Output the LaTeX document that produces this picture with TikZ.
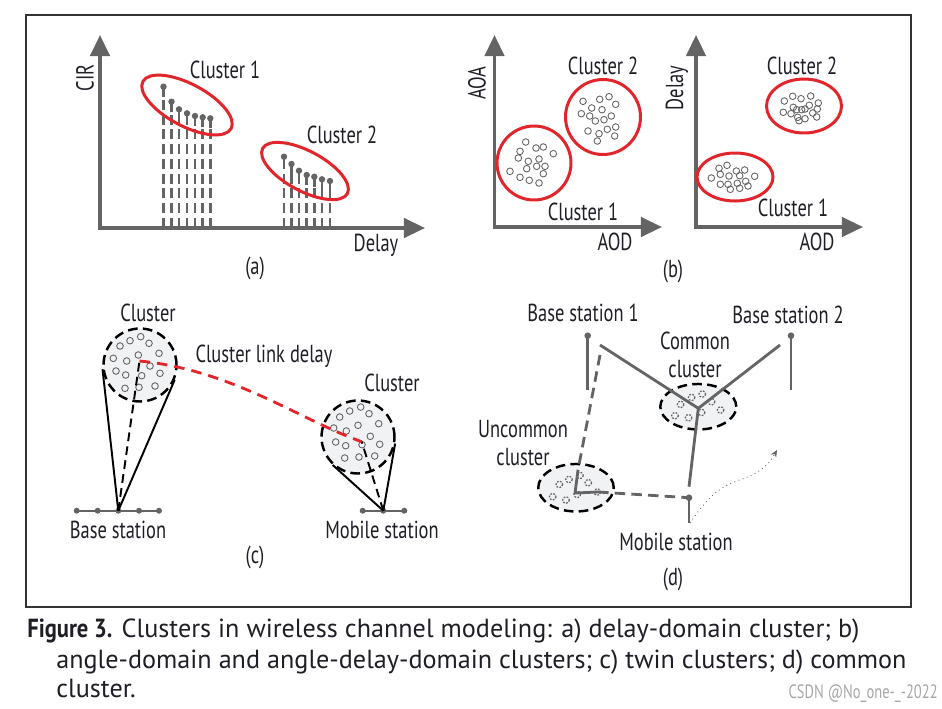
\documentclass[tikz,border=0pt]{standalone}
\usepackage{fontspec}
\setmainfont{PT Sans}[FakeStretch=0.75]
\newfontfamily\capfont{PT Sans}
\newfontfamily\figfont{PT Sans}[FakeStretch=0.86]
\usetikzlibrary{arrows.meta,shapes.geometric,calc}
\definecolor{axisgray}{HTML}{646464}
\definecolor{clred}{HTML}{E2252B}
\definecolor{clfill}{HTML}{F1F2F4}
\definecolor{ink}{HTML}{1E1E26}

\begin{document}
\begin{tikzpicture}[x=0.02cm,y=-0.02cm,
  lbl/.style={font=\fontsize{14}{16}\selectfont,text=ink,inner sep=0pt},
  captext/.style={anchor=base west,inner sep=0pt,text=ink,font=\capfont\fontsize{14.9}{17}\selectfont},
  axis/.style={axisgray,line width=2pt,line join=miter,{Triangle[length=12pt,width=11pt]}-{Triangle[length=12pt,width=11pt]}},
  stem/.style={axisgray,line width=1.5pt,dash pattern=on 5.8pt off 2.6pt},
  stemtop/.style={axisgray,line width=1.5pt},
  ring/.style={clred,line width=1.7pt},
  pt/.style={axisgray,line width=0.5pt},
  dpt/.style={axisgray,line width=0.7pt,dash pattern=on 1pt off 0.8pt},
  clus/.style={circle,draw=black,fill=clfill,line width=1.4pt,dash pattern=on 5.5pt off 3pt,minimum size=1.46cm,inner sep=0pt},
  eclus/.style={ellipse,draw=black,fill=clfill,line width=1.4pt,dash pattern=on 5.5pt off 3pt,inner sep=0pt},
  link/.style={black,line width=1.1pt},
  dlink/.style={black,line width=1.1pt,dash pattern=on 5pt off 3pt},
  delay/.style={clred,line width=1.6pt,dash pattern=on 6pt off 4pt},
  ray/.style={axisgray,line width=1.6pt},
  dray/.style={axisgray,line width=1.6pt,dash pattern=on 6pt off 3.5pt},
  station/.style={axisgray,line width=1.1pt}]
\useasboundingbox (0,0) rectangle (942,708);
\draw[black!80,line width=0.7pt] (26,15) rectangle (911,607);

% (a) delay-domain clusters
\draw[axis] (100,35) -- (100,228) -- (425,228);
\node[lbl,rotate=90] (cir) at (85,78) {CIR};
\node[lbl] (delaya) at (376,245) {Delay};
\node[lbl] (capa) at (255,268) {(a)};
\foreach \x/\y in {163.5/86.7,171.5/101.7,179/109.3,187/113.3,195/116,202.7/117.3,210.3/118.3,
                   284/156.7,291.5/164,299/170.7,306.7/175,314.3/176.7,322/179.3,330/181}{
  \draw[stem] (\x,228) -- (\x,\y+10);
  \draw[stemtop] (\x,\y+10) -- (\x,\y);
  \fill[axisgray] (\x,\y) circle[radius=3.2];
}
\draw[ring,rotate around={-28:(187,105)}] (187,105) ellipse[x radius=50,y radius=21];
\draw[ring,rotate around={-28:(305,171)}] (305,171) ellipse[x radius=48,y radius=20];
\node[lbl] (c1a) at (225,70) {Cluster 1};
\node[lbl] (c2a) at (342,135) {Cluster 2};

% (b) angle-domain clusters
\draw[axis] (494.5,35) -- (494.5,227) -- (662,227);
\node[lbl,rotate=90] (aoa) at (477,83) {AOA};
\node[lbl] (aodl) at (615,242) {AOD};
\node[ring,circle,draw,minimum size=1.48cm,inner sep=0pt] (r1) at (534,163) {};
\node[ring,circle,draw,minimum size=1.5cm,inner sep=0pt] (r2) at (603,117) {};
\begin{scope}[shift={(r1.center)}]
\foreach \dx/\dy in {-8.3/-21,2/-15,9.3/-16,19.3/-9.3,-14/-11.7,-15.7/-5,-5.7/-1.7,5/-4,2.7/3.3,11/3.3,
                     -7.3/5.7,-24/8.3,9.3/10.7,-14/14.3,-4.7/17.3,5/20}
  \draw[pt] (\dx,\dy) circle[radius=3.3];
\end{scope}
\begin{scope}[shift={(r2.center)}]
\foreach \dx/\dy in {-20/-15.7,-3.3/-17.7,6/-20.3,12.7/-12.7,-11.3/-9,-1/-7.3,-21.7/-3.3,-13.3/-1,-7.7/4,
                     1/2.7,8.3/-1,-15/14,-4/16.7,4.3/12.3,12.7/10,11.7/19,-5.7/24}
  \draw[pt] (\dx,\dy) circle[radius=3.3];
\end{scope}
\node[lbl] (c2b) at (603,66) {Cluster 2};
\node[lbl] (c1b) at (583,212) {Cluster 1};

% (b) angle-delay-domain clusters
\draw[axis] (696,35) -- (696,227) -- (863,227);
\node[lbl,rotate=90] (delayb) at (677,88) {Delay};
\node[lbl] (aodr) at (817,242) {AOD};
\node[ring,ellipse,draw,minimum width=1.5cm,minimum height=1.08cm,inner sep=0pt] (e2) at (804,106) {};
\node[ring,ellipse,draw,minimum width=1.52cm,minimum height=0.96cm,inner sep=0pt] (e1) at (735,177) {};
\begin{scope}[shift={(e2.center)}]
\foreach \dx/\dy in {-19.7/-5,-11.3/-9.7,-3/-7.3,6.7/-10,14.3/-3,5.3/-0.7,-10.7/1.3,-2.3/3.7,-7.3/3.7,1/3,
                     13.3/3,-20.7/6.3,-13/7.7,-6.3/11.3,1/12.7,8.7/7,-5/14.7,12.7/11}
  \draw[pt] (\dx,\dy) circle[radius=3.3];
\end{scope}
\begin{scope}[shift={(e1.center)}]
\foreach \dx/\dy in {-16/-8.7,-8/-11.7,1.3/-6,9.7/-7,-14.7/-2.7,-6/-1,4.7/-1.3,19.7/-0.7,-23.7/1,-14.7/7.3,
                     -7/7.3,2.3/6.3,10.7/4.3,13/9,-4.7/12.3,4.7/11.3}
  \draw[pt] (\dx,\dy) circle[radius=3.3];
\end{scope}
\node[lbl] (c2c) at (802,66) {Cluster 2};
\node[lbl] (c1c) at (793,208) {Cluster 1};
\node[lbl] (capb) at (673,271) {(b)};

% (c) twin clusters
\node[clus] (cl1) at (140,365) {};
\node[clus] (cl2) at (358,437) {};
\begin{scope}[shift={(cl1.center)}]
\foreach \dx/\dy in {-20/-19,-10/-24.3,0.7/-28.3,9/-21.7,19/-11.7,-26.7/-6.7,-13.3/-4,-1.7/-10,10/1,-24/6,
                     -14.3/10,1.7/10.7,20/8.3,-15/23.3,-1/22.3,15/21}
  \draw[pt] (\dx,\dy) circle[radius=3.3];
\end{scope}
\begin{scope}[shift={(cl2.center)}]
\foreach \dx/\dy in {-18.3/-20,-8.3/-26,2.7/-30,11/-23.3,20.7/-13.3,-24.3/-9,-11.7/-6,0/-11.7,12.3/-0.7,
                     -22.3/5,-12.3/8.7,4/7.7,21.7/7.3,-13.3/21,1/20,16.7/19}
  \draw[pt] (\dx,\dy) circle[radius=3.3];
\end{scope}
\coordinate (bs) at (118.3,510.7);
\coordinate (ms) at (383.3,510.7);
\coordinate (cl1p) at (139.5,361);
\coordinate (cl2p) at (361.7,441.7);
\draw[station] (76.7,510.7) -- (159,510.7);
\foreach \x in {76.7,97.7,118.3,139,159} \fill[axisgray] (\x,510.7) circle[radius=3];
\draw[station] (362.7,510.7) -- (404.3,510.7);
\foreach \x in {362.7,383.3,404.3} \fill[axisgray] (\x,510.7) circle[radius=3];
\draw[link] (bs) -- (tangent cs:node=cl1,point={(bs)},solution=1);
\draw[link] (bs) -- (tangent cs:node=cl1,point={(bs)},solution=2);
\draw[dlink] (bs) -- (cl1p);
\draw[link] (ms) -- (tangent cs:node=cl2,point={(ms)},solution=1);
\draw[link] (ms) -- (tangent cs:node=cl2,point={(ms)},solution=2);
\draw[dlink] (ms) -- (cl2p);
\draw[delay] (cl1p) .. controls (233,370) and (300,420) .. (cl2p);
\node[lbl] (clab1) at (148,313) {Cluster};
\node[lbl] (clab2) at (392,383) {Cluster};
\node[lbl] (dlab) at (264,356) {Cluster link delay};
\node[lbl] (bslab) at (118,530) {Base station};
\node[lbl] (mslab) at (382,530) {Mobile station};
\node[lbl] (capc) at (255,557) {(c)};

% (d) common cluster
\node[eclus,minimum width=1.52cm,minimum height=0.91cm] (cc) at (698.3,406.7) {};
\node[eclus,minimum width=1.51cm,minimum height=0.95cm] (uc) at (576,487.7) {};
\begin{scope}[shift={(cc.center)}]
\foreach \dx/\dy in {-6.7/-9.3,4/-12.7,13.3/-5,-17.7/-2.3,-23.3/9,-9.7/11,3.3/5.7,22.3/3.3}
  \draw[dpt] (\dx,\dy) circle[radius=3.3];
\end{scope}
\begin{scope}[shift={(uc.center)}]
\foreach \dx/\dy in {-16.7/-3.3,-7/-8.3,4/-12.3,12.3/-5,21.3/4.3,-23.3/9,-10/12.3,1.3/6.7}
  \draw[dpt] (\dx,\dy) circle[radius=3.3];
\end{scope}
\coordinate (bs1) at (587.7,335.7);
\coordinate (bs2) at (791,335.7);
\coordinate (ms2) at (689,497.7);
\coordinate (bs1a) at (600,345);
\coordinate (bs1b) at (600,355);
\coordinate (bs2a) at (780,345);
\coordinate (ccp) at (698.3,408.3);
\coordinate (ucp) at (575,493);
\draw[ray] (bs1) -- (587.7,390);
\fill[axisgray] (bs1) circle[radius=3.3];
\draw[ray] (bs2) -- (791,390);
\fill[axisgray] (bs2) circle[radius=3.3];
\draw[ray] (ms2) -- (689,523);
\fill[axisgray] (ms2) circle[radius=3.3];
\draw[ray] (bs1a) -- (ccp) -- (bs2a);
\draw[ray] (ccp) -- (689,486.7);
\draw[dray] (bs1b) -- (578,470);
\draw[ray] (578,470) -- (ucp) -- (598,492);
\draw[dray] (598,492) -- (ms2);
\draw[axisgray,line width=0.5pt,dotted,-{Stealth[length=4pt,width=3.5pt]}] (690,523) .. controls (712,490) and (725,485) .. (745,478) .. controls (765,470) and (770,462) .. (777,450);
\node[lbl] (bs1lab) at (583,313) {Base station 1};
\node[lbl] (bs2lab) at (788,315) {Base station 2};
\node[lbl,align=center] (cclab) at (695,355) {Common\\cluster};
\node[lbl,align=center] (uclab) at (523,443) {Uncommon\\cluster};
\node[lbl] (ms2lab) at (676,542) {Mobile station};
\node[lbl] (capd) at (673,579) {(d)};

% caption
\node[captext] (cap1) at (27,637)
  {{\figfont\bfseries Figure 3.} Clusters in wireless channel modeling: a) delay-domain cluster; b)};
\node[captext] (cap2) at (56,668)
  {angle-domain and angle-delay-domain clusters; c) twin clusters; d) common};
\node[captext] (cap3) at (56,697) {cluster.};
\node[anchor=base east,inner sep=0pt,text=black!35,font=\fontsize{11}{12}\selectfont] (mark) at (938,698)
  {CSDN @No\_one-\_-2022};
\end{tikzpicture}
\end{document}
